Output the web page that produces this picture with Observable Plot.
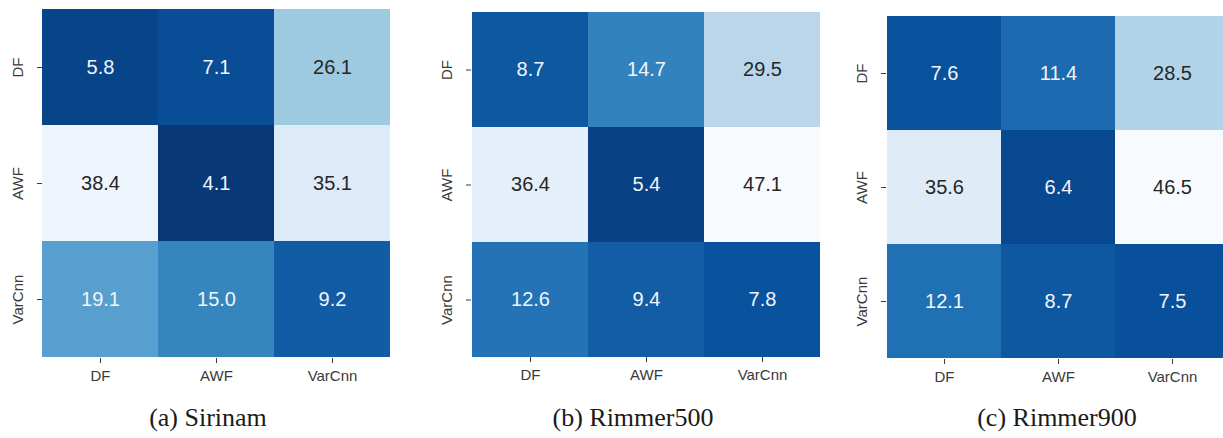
<!DOCTYPE html>
<html>
<head>
<meta charset="utf-8">
<script src="https://cdn.jsdelivr.net/npm/d3@7"></script>
<script src="https://cdn.jsdelivr.net/npm/@observablehq/plot@0.6"></script>
<style>
  html, body { margin: 0; padding: 0; background: #fff; }
  #fig { position: relative; width: 1223px; height: 438px; overflow: hidden; background: #fff; }
  .panel { position: absolute; top: 0; }
  .panel svg { max-width: none !important; }
  .caption {
    position: absolute; top: 405px; width: 300px; text-align: center;
    font-family: "Liberation Serif", "Times New Roman", serif; font-size: 26px;
    line-height: 26px; color: #1a1a1a; white-space: nowrap;
  }
</style>
</head>
<body>
<div id="fig"></div>
<script>
// Models compared (rows and columns of each matrix)
const models = ["DF", "AWF", "VarCnn"];

// Matrix values per dataset, row-major (rows = models, columns = models)
const sirinam   = [[5.8, 7.1, 26.1], [38.4, 4.1, 35.1], [19.1, 15.0, 9.2]];
const rimmer500 = [[8.7, 14.7, 29.5], [36.4, 5.4, 47.1], [12.6, 9.4, 7.8]];
const rimmer900 = [[7.6, 11.4, 28.5], [35.6, 6.4, 46.5], [12.1, 8.7, 7.5]];

const captions = ["(a) Sirinam", "(b) Rimmer500", "(c) Rimmer900"];

// Layout of each panel: frame edges in page pixels and caption centre
const layout = [
  {x0: 42,  x1: 390,  y0: 8,  y1: 358, cap: 208},
  {x0: 471, x1: 820,  y0: 12, y1: 357, cap: 633},
  {x0: 886, x1: 1229, y0: 15, y1: 359, cap: 1057}
];

// Matplotlib-style "Blues" ramp, dark for low values
const blues9 = ["#f7fbff", "#deebf7", "#c6dbef", "#9ecae1", "#6baed6",
                "#4292c6", "#2171b5", "#08519c", "#08306b"];
const bluesRamp = d3.piecewise(d3.interpolateRgb, blues9.slice().reverse());
const colorOpts = {type: "linear", domain: [3, 40], interpolate: bluesRamp, clamp: true};
const colorScale = Plot.scale({color: colorOpts});

function luminance(c) {
  const {r, g, b} = d3.rgb(c);
  const lin = v => { v /= 255; return v <= 0.03928 ? v / 12.92 : Math.pow((v + 0.055) / 1.055, 2.4); };
  return 0.2126 * lin(r) + 0.7152 * lin(g) + 0.0722 * lin(b);
}

const fig = document.getElementById("fig");

[sirinam, rimmer500, rimmer900].forEach((matrix, i) => {
  const L = layout[i];
  const rows = [];
  matrix.forEach((row, r) => row.forEach((v, c) => rows.push({row: models[r], col: models[c], value: v})));

  const marginLeft = 42, marginRight = 4, marginBottom = 34;
  const width = (L.x1 - L.x0) + marginLeft + marginRight;
  const chart = Plot.plot({
    width,
    height: L.y1 + marginBottom,
    marginLeft, marginRight, marginTop: L.y0, marginBottom,
    style: {fontFamily: "Liberation Sans, Arial, sans-serif", fontSize: "15px", color: "#3a3a3a", background: "transparent"},
    x: {domain: models, padding: 0, label: null, tickSize: 5, tickPadding: 7},
    y: {domain: models, padding: 0, label: null, tickSize: 5, tickPadding: 15, tickRotate: -90},
    color: colorOpts,
    marks: [
      Plot.cell(rows, {x: "col", y: "row", fill: "value", inset: 0}),
      Plot.text(rows, {
        x: "col", y: "row",
        text: d => d.value.toFixed(1),
        fontSize: 20,
        fill: d => luminance(colorScale.apply(d.value)) > 0.408 ? "#262626" : "#f2f5fa"
      })
    ]
  });

  const panel = document.createElement("div");
  panel.className = "panel";
  panel.style.left = (L.x0 - marginLeft) + "px";
  panel.style.width = width + "px";
  panel.appendChild(chart);
  fig.appendChild(panel);

  const cap = document.createElement("div");
  cap.className = "caption";
  cap.style.left = (L.cap - 150) + "px";
  cap.textContent = captions[i];
  fig.appendChild(cap);
});
</script>
</body>
</html>
